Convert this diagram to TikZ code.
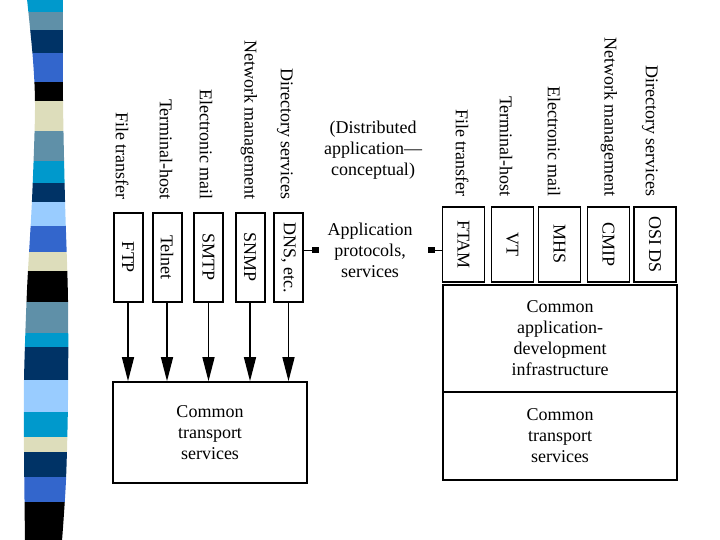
\documentclass[tikz,border=0pt]{standalone}
\usepackage{fontspec}
\setmainfont{Liberation Serif}
\usetikzlibrary{arrows.meta}
\definecolor{stripcyan}{HTML}{0099CC}
\definecolor{stripgrey}{HTML}{5F90A8}
\definecolor{stripnavy}{HTML}{003366}
\definecolor{stripblue}{HTML}{3366CC}
\definecolor{stripbeige}{HTML}{DDDDBB}
\definecolor{striplight}{HTML}{99CCFF}
\begin{document}
\begin{tikzpicture}[x=1pt,y=-1pt,
    every node/.style={font=\fontsize{18}{21}\selectfont},
    vlabel/.style={rotate=-90,anchor=east,inner sep=0pt},
    protbox/.style={draw,line width=2pt,rotate=-90,minimum width=89pt,minimum height=29pt,inner sep=0pt},
    osibox/.style={draw,line width=1.8pt,rotate=-90,minimum width=75pt,minimum height=42pt,inner sep=0pt},
    layerbox/.style={draw,line width=1.6pt,minimum width=234pt,align=center,inner sep=0pt},
    feed/.style={-{Triangle[length=24pt,width=12pt]},line width=1.4pt},
    stub/.style={-{Rectangle[length=7pt,width=6pt]},line width=1pt}]
  \useasboundingbox (0,0) rectangle (720,540);
  % striped band on the left
  \begin{scope}
    \clip plot[smooth] coordinates {(27,-1) (33,60) (35,110) (32,200) (27,290) (24,380) (24,450) (25,541)}
      -- plot[smooth] coordinates {(62,541) (66,480) (68,400) (68,300) (65,200) (63,100) (63,-1)} -- cycle;
    \foreach \ya/\yb/\c in {0/12/stripcyan, 12/30/stripgrey, 30/53/stripnavy, 53/82/stripblue,
        82/101/black, 101/131/stripbeige, 131/161/stripgrey, 161/183/stripcyan, 183/202/stripnavy,
        202/226/striplight, 226/252/stripblue, 252/271/stripbeige, 271/302/black, 302/333/stripgrey,
        333/347/stripcyan, 347/380/stripnavy, 380/412/striplight, 412/437/stripcyan, 437/452/stripbeige,
        452/477/stripnavy, 477/502/stripblue, 502/541/black}
      \fill[\c] (0,\ya) rectangle (80,\yb);
  \end{scope}
  % internet side
  \node[vlabel] (lfile) at (122,200) {File transfer};
  \node[vlabel] (lterm) at (166,200) {Terminal-host};
  \node[vlabel] (lmail) at (206,200) {Electronic mail};
  \node[vlabel] (lnet) at (249,200) {Network management};
  \node[vlabel] (ldir) at (285,200) {Directory services};
  \node[protbox] (ftp) at (128,257.5) {FTP};
  \node[protbox] (telnet) at (167,257.5) {Telnet};
  \node[protbox] (smtp) at (208.5,257.5) {SMTP};
  \node[protbox] (snmp) at (250,257.5) {SNMP};
  \node[protbox] (dns) at (288.5,257.5) {DNS, etc.};
  \node[layerbox,minimum width=194pt,minimum height=101pt] (lcts) at (210,432.5) {Common\\transport\\services};
  \draw[feed] (ftp.east) -- (ftp.east |- lcts.north);
  \draw[feed] (telnet.east) -- (telnet.east |- lcts.north);
  \draw[feed] (smtp.east) -- (smtp.east |- lcts.north);
  \draw[feed] (snmp.east) -- (snmp.east |- lcts.north);
  \draw[feed] (dns.east) -- (dns.east |- lcts.north);
  % middle
  \node[align=center] (concept) at (373,150) {(Distributed\\application---\\conceptual)};
  \node[align=center] (apps) at (370,250) {Application\\protocols,\\services};
  \draw[stub] (dns.north |- apps) -- ++(15,0);
  % osi side
  \node[vlabel] (rfile) at (462,197) {File transfer};
  \node[vlabel] (rterm) at (506,197) {Terminal-host};
  \node[vlabel] (rmail) at (554,197) {Electronic mail};
  \node[vlabel] (rnet) at (609,197) {Network management};
  \node[vlabel] (rdir) at (650,197) {Directory services};
  \node[osibox] (ftam) at (463.5,244.5) {FTAM};
  \node[osibox] (vt) at (512.5,244.5) {VT};
  \node[osibox] (mhs) at (559.5,244.5) {MHS};
  \node[osibox] (cmip) at (608.5,244.5) {CMIP};
  \node[osibox] (osids) at (655,244.5) {OSI DS};
  \draw[stub] (ftam.south |- apps) -- ++(-14,0);
  \node[layerbox,minimum height=107pt] (infra) at (560,338.5) {Common\\application-\\development\\infrastructure};
  \node[layerbox,minimum height=88pt] (rcts) at (560,436) {Common\\transport\\services};
\end{tikzpicture}
\end{document}
